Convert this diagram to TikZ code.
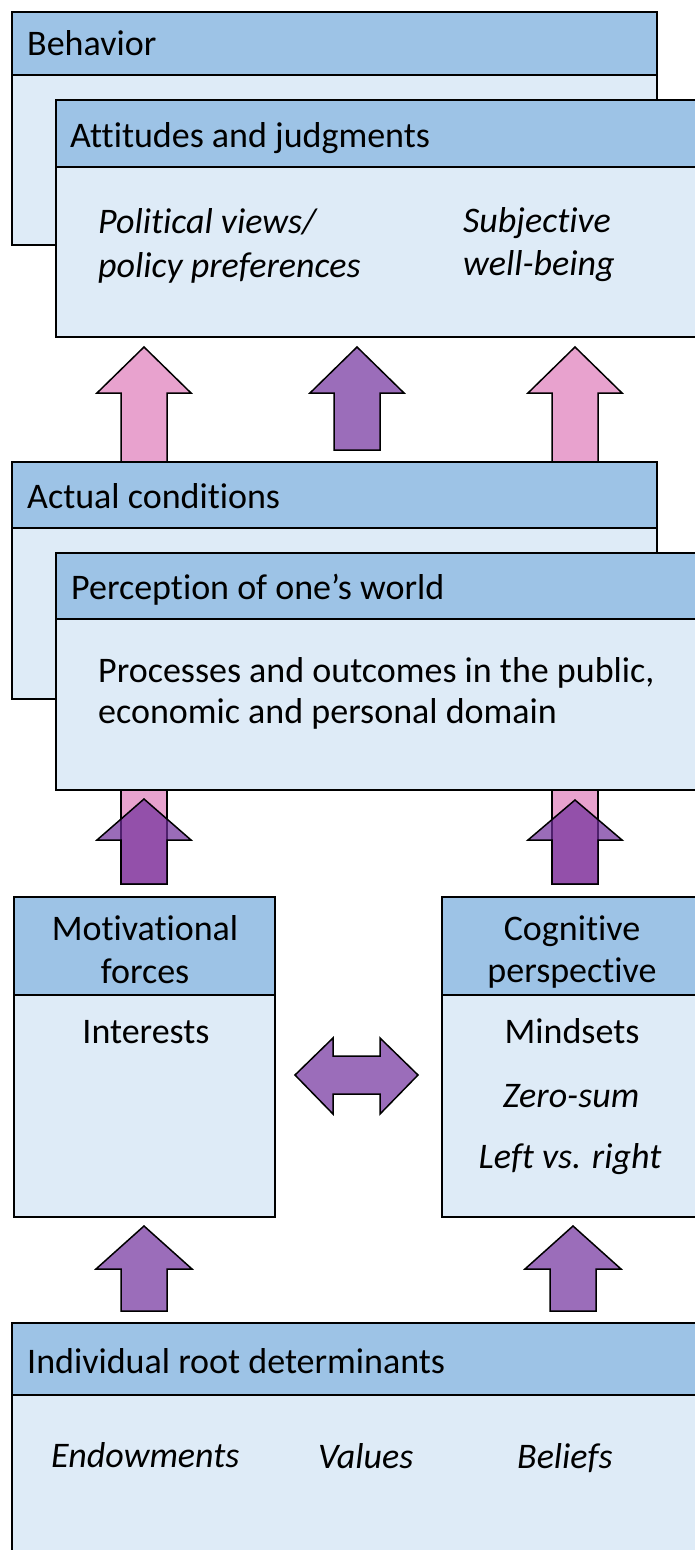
\documentclass[tikz,border=0pt]{standalone}
\usepackage{fontspec}
\setmainfont{Carlito}[Ligatures=NoCommon]
\definecolor{hdrblue}{RGB}{157,195,230}
\definecolor{bodyblue}{RGB}{222,235,247}
\definecolor{apink}{RGB}{232,162,206}
\definecolor{apurple}{RGB}{155,109,186}
\definecolor{apurpledeep}{RGB}{112,46,155}
\tikzset{
  boxline/.style={draw=black, line width=2.5pt},
  hdrfill/.style={fill=hdrblue},
  bodyfill/.style={fill=bodyblue},
  lbl/.style={anchor=base west, inner sep=0pt, font=\fontsize{36}{43}\selectfont},
  clbl/.style={anchor=base, inner sep=0pt, font=\fontsize{36}{43}\selectfont},
  ilbl/.style={lbl, font=\fontsize{36}{43}\selectfont\itshape},
  cilbl/.style={clbl, font=\fontsize{36}{43}\selectfont\itshape},
  pinkarr/.style={fill=apink, draw=black, line width=1.5pt, line join=miter},
  purparr/.style={fill=apurple, draw=black, line width=1.5pt, line join=miter},
  purptrans/.style={fill=apurpledeep, fill opacity=0.7, draw=black, line width=1.5pt, line join=miter},
}
% up block arrow: #1 centre x, #2 tip y, #3 head base y, #4 bottom y, #5 style, #6 head half width
\newcommand\upblockarrow[6]{%
  \draw[#5] ({#1-23},#4) -- ({#1-23},#3) -- ({#1-#6},#3) -- (#1,#2)
    -- ({#1+#6},#3) -- ({#1+23},#3) -- ({#1+23},#4) -- cycle;}
% box with header: #1 left, #2 top, #3 right, #4 header bottom, #5 bottom
\newcommand\hdrbox[5]{%
  \fill[bodyfill] (#1,#2) rectangle (#3,#5);
  \fill[hdrfill] (#1,#2) rectangle (#3,#4);
  \draw[boxline] (#1,#2) rectangle (#3,#5);
  \draw[boxline] (#1,#4) -- (#3,#4);}
\begin{document}
\begin{tikzpicture}[x=1pt, y=-1pt]
\useasboundingbox (0,0) rectangle (694,1550);
\fill[white] (0,0) rectangle (694,1550);

% ---- top group
\hdrbox{12}{12}{657}{75}{245}
\node[lbl] (behavior) at (27,55) {Behavior};
\hdrbox{56}{100}{720}{167}{337}
\node[lbl] (attitudes) at (70,147) {Attitudes and judgments};
\node[ilbl] (polviews) at (98,233) {Political views/};
\node[ilbl] (polpref) at (98,277) {policy preferences};
\node[ilbl] (subj) at (463,232) {Subjective};
\node[ilbl] (wellb) at (463,275) {well-being};

% ---- arrows between top and middle
\upblockarrow{144}{347}{393}{462}{pinkarr}{47}
\upblockarrow{357}{347}{393}{450}{purparr}{47}
\upblockarrow{575}{347}{393}{462}{pinkarr}{47}

% ---- middle group
\hdrbox{12}{462}{657}{528}{699}
\node[lbl] (actual) at (27,508) {Actual conditions};
\hdrbox{56}{553}{720}{619}{790}
\node[lbl] (perception) at (71,599) {Perception of one’s world};
\node[lbl] (proc1) at (98,682) {Processes and outcomes in the public,};
\node[lbl] (proc2) at (98,723) {economic and personal domain};

% ---- arrows into perception (pink shaft behind translucent purple)
\draw[pinkarr] (121,884) rectangle (167,790);
\draw[pinkarr] (552,884) rectangle (598,790);
\upblockarrow{144}{799}{840}{884}{purptrans}{47}
\upblockarrow{575}{800}{840}{884}{purptrans}{47}

% ---- motivational / cognitive
\hdrbox{14}{897}{275}{995}{1217}
\node[clbl] (motiv) at (145,940) {Motivational};
\node[clbl] (forces) at (145,983) {forces};
\node[clbl] (interests) at (146,1043) {Interests};
\hdrbox{442}{897}{702}{995}{1217}
\node[clbl] (cogn) at (572,940) {Cognitive};
\node[clbl] (persp) at (572,982) {perspective};
\node[clbl] (mindsets) at (572,1043) {Mindsets};
\node[cilbl] (zerosum) at (571,1107) {Zero-sum};
\node[cilbl] (leftright) at (570,1168) {Left vs. right};

% double arrow
\draw[purparr] (295,1075) -- (333,1038) -- (333,1056) -- (380,1056) -- (380,1038)
  -- (418,1075) -- (380,1114) -- (380,1094) -- (333,1094) -- (333,1114) -- cycle;

% ---- bottom arrows
\upblockarrow{144}{1226}{1269}{1311}{purparr}{48}
\upblockarrow{573}{1226}{1269}{1311}{purparr}{48}

% ---- root determinants
\hdrbox{12}{1323}{720}{1395}{1580}
\node[lbl] (indiv) at (27,1373) {Individual root determinants};
\node[ilbl] (endow) at (51,1467) {Endowments};
\node[ilbl] (values) at (318,1468) {Values};
\node[ilbl] (beliefs) at (517,1468) {Beliefs};
\end{tikzpicture}
\end{document}
